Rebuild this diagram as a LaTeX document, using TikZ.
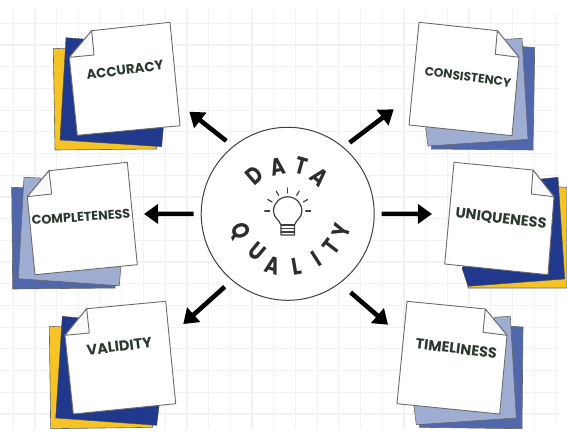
\documentclass[tikz,border=0pt]{standalone}
\usepackage{fontspec}
\setmainfont{Poppins}
\usetikzlibrary{arrows.meta, positioning}
\definecolor{mYellow}{HTML}{F6C324}
\definecolor{mNavy}{HTML}{20398C}
\definecolor{mBlue}{HTML}{5068AB}
\definecolor{mPale}{HTML}{9FADD2}
\definecolor{mInk}{HTML}{2B392E}
\definecolor{mGrid}{HTML}{F2F2F2}
\tikzset{
  yellowsheet/.style={fill=mYellow, draw=gray!80!black, line width=0.6pt},
  navysheet/.style={fill=mNavy, draw=gray!60!black, line width=0.4pt},
  bluesheet/.style={fill=mBlue, draw=gray!80!black, line width=0.6pt},
  palesheet/.style={fill=mPale, draw=gray!80!black, line width=0.6pt},
  topsheet/.style={fill=white, draw=gray!85!black, line width=0.9pt, line join=round},
  foldsheet/.style={fill=black!2, draw=gray!85!black, line width=0.9pt, line join=round},
  notelabel/.style={text=mInk, inner sep=0pt, font=\bfseries\fontsize{#1}{15}\selectfont},
  hubletter/.style={text=black!82, inner sep=0pt, xscale=0.82, font=\bfseries\fontsize{24}{24}\selectfont},
  flow/.style={line width=4.6pt, -{Triangle[length=14pt,width=19pt]}},
  bulbline/.style={draw=black!75, line width=1.2pt, line cap=round, line join=round}
}
\begin{document}
\begin{tikzpicture}[x=1pt, y=-1pt]
    \useasboundingbox (0,0) rectangle (567,436);
    \fill[white] (0,0) rectangle (567,436);
    % grid
    \begin{scope}
        \clip[rounded corners=14pt] (0,9) rectangle (559,429);
        \foreach \i in {0,...,25} \draw[mGrid, line width=1.2pt] (13.3+21.7*\i,0) -- (13.3+21.7*\i,436);
        \foreach \j in {0,...,18} \draw[mGrid, line width=1.2pt] (0,23.3+21.7*\j) -- (567,23.3+21.7*\j);
    \end{scope}
    % accuracy
    \draw[yellowsheet] (53.3,48.3) -- (70,49) -- (156.7,146) -- (156.7,149) -- (55,150) -- cycle;
    \draw[navysheet] (66,37.7) -- (83,39) -- (163.3,128) -- (161.7,146.7) -- (60,140) -- cycle;
    \draw[topsheet] (91.7,30.7) -- (170,22.3) -- (180,125.7) -- (77.3,135.3) -- (69.3,57.3) -- cycle;
    \draw[foldsheet] (91.7,30.7) -- (94,55) -- (69.3,57.3) -- cycle;
    \node[notelabel=13.4, rotate=7.5] (accuracy) at (125,70) {ACCURACY};
    % completeness
    \draw[bluesheet] (11.7,187.3) -- (30,188) -- (115,285) -- (115,288) -- (12.7,289) -- cycle;
    \draw[palesheet] (24,177.3) -- (40,178) -- (120.7,268) -- (119.3,285.7) -- (18.3,278.7) -- cycle;
    \draw[topsheet] (49,170.7) -- (127.3,162.3) -- (137.3,264.7) -- (35,274.7) -- (27.3,196.7) -- cycle;
    \draw[foldsheet] (49,170.7) -- (51.7,194) -- (27.3,196.7) -- cycle;
    \node[notelabel=12.7, rotate=4] (completeness) at (81,217) {COMPLETENESS};
    % validity
    \draw[yellowsheet] (49.3,326.3) -- (65,327) -- (152.7,424) -- (152.7,427.3) -- (50.7,428.7) -- cycle;
    \draw[navysheet] (62.3,316.3) -- (80,318) -- (159,406.3) -- (156.7,425.3) -- (55.7,418) -- cycle;
    \draw[topsheet] (86.7,308.7) -- (165.7,301.3) -- (175.7,403.7) -- (73.3,414) -- (65,335.3) -- cycle;
    \draw[foldsheet] (86.7,308.7) -- (89.3,333) -- (65,335.3) -- cycle;
    \node[notelabel=14.5, rotate=7] (validity) at (119.3,346.3) {VALIDITY};
    % consistency
    \draw[bluesheet] (534.7,47.7) -- (523,46.7) -- (431.3,146) -- (431.3,149) -- (533,150) -- cycle;
    \draw[palesheet] (522,38.3) -- (506.3,39.3) -- (425.7,128.3) -- (428,146) -- (528,139.3) -- cycle;
    \draw[topsheet] (497.3,30.7) -- (419,22.3) -- (409,125) -- (512,135.7) -- (519,57.3) -- cycle;
    \draw[foldsheet] (497.3,30.7) -- (495.3,54.3) -- (519,57.3) -- cycle;
    \node[notelabel=12.2, rotate=-8] (consistency) at (468,77) {CONSISTENCY};
    % uniqueness
    \draw[yellowsheet] (567,187.3) -- (559.7,187) -- (468,285) -- (468,288) -- (567,288) -- cycle;
    \draw[navysheet] (558,177.3) -- (541.3,179) -- (462,268) -- (468,286.3) -- (564.7,279) -- cycle;
    \draw[topsheet] (533,170) -- (454,162.3) -- (444.7,264) -- (548,274.7) -- (554,196.7) -- cycle;
    \draw[foldsheet] (533,170) -- (531.3,194) -- (554,196.7) -- cycle;
    \node[notelabel=14.5, rotate=-7] (uniqueness) at (501,219) {UNIQUENESS};
    % timeliness
    \draw[bluesheet] (523,327) -- (511.3,326.3) -- (419.7,424) -- (419.7,427.3) -- (522,428.7) -- cycle;
    \draw[palesheet] (510.3,316.3) -- (494.7,317.3) -- (414,406.3) -- (416.3,424.7) -- (516.3,418) -- cycle;
    \draw[topsheet] (485.3,309) -- (407,301.3) -- (397,403.7) -- (499.7,414) -- (507,335.3) -- cycle;
    \draw[foldsheet] (485.3,309) -- (483,332.3) -- (507,335.3) -- cycle;
    \node[notelabel=14.5, rotate=-7] (timeliness) at (456.3,348.7) {TIMELINESS};
    % hub
    \node[circle, draw=black!75, fill=white, line width=1pt, minimum size=173pt, inner sep=0pt] (hub) at (287.7,213.8) {};
    \foreach \ch/\ang/\rad [count=\n] in {D/-40.8/51, A/-12/48, T/15.5/50, A/41.6/48.6}
        \node[rotate=-\ang, hubletter] (top\n) at (287.7+\rad*sin \ang,213.8-\rad*cos \ang) {\ch};
    \foreach \ch/\ang/\rad [count=\n] in {Q/70/50.7, U/39.7/48.5, A/16.6/53.6, L/-9.6/53.8, I/-32.6/53.8, T/-52.7/54.5, Y/-73/56.4}
        \node[rotate=-\ang, hubletter] (low\n) at (287.7-\rad*sin \ang,213.8+\rad*cos \ang) {\ch};
    % bulb
    \foreach \ang in {-90,-60,...,90}
        \draw[bulbline] (287.7+18*sin \ang,211-18*cos \ang) -- (287.7+23*sin \ang,211-23*cos \ang);
    \draw[bulbline] (281,235) -- (281,225) .. controls (279,219) and (273.5,218) .. (273.5,211) .. controls (273.5,203.2) and (279.8,196.8) .. (287.7,196.8) .. controls (295.6,196.8) and (301.9,203.2) .. (301.9,211) .. controls (301.9,218) and (296.5,219) .. (294.5,225) -- (294.5,235) -- cycle;
    \draw[bulbline] (281,225) -- (294.5,225) (281,228.5) -- (294.5,228.5) (281,232) -- (294.5,232);
    % arrows
    \coordinate (tipaccuracy) at (189.3,111.7);
    \coordinate (tipcompleteness) at (144,214);
    \coordinate (tipvalidity) at (183.3,324);
    \coordinate (tipconsistency) at (393.7,109.3);
    \coordinate (tipuniqueness) at (432,214);
    \coordinate (tiptimeliness) at (388,324.7);
    \draw[flow, shorten <=8.5pt] (hub.129) -- (tipaccuracy);
    \draw[flow, shorten <=7pt] (hub.180) -- (tipcompleteness);
    \draw[flow, shorten <=9.5pt] (hub.230.6) -- (tipvalidity);
    \draw[flow, shorten <=7.5pt] (hub.50) -- (tipconsistency);
    \draw[flow, shorten <=7pt] (hub.0) -- (tipuniqueness);
    \draw[flow, shorten <=14pt] (hub.307.2) -- (tiptimeliness);
\end{tikzpicture}
\end{document}
